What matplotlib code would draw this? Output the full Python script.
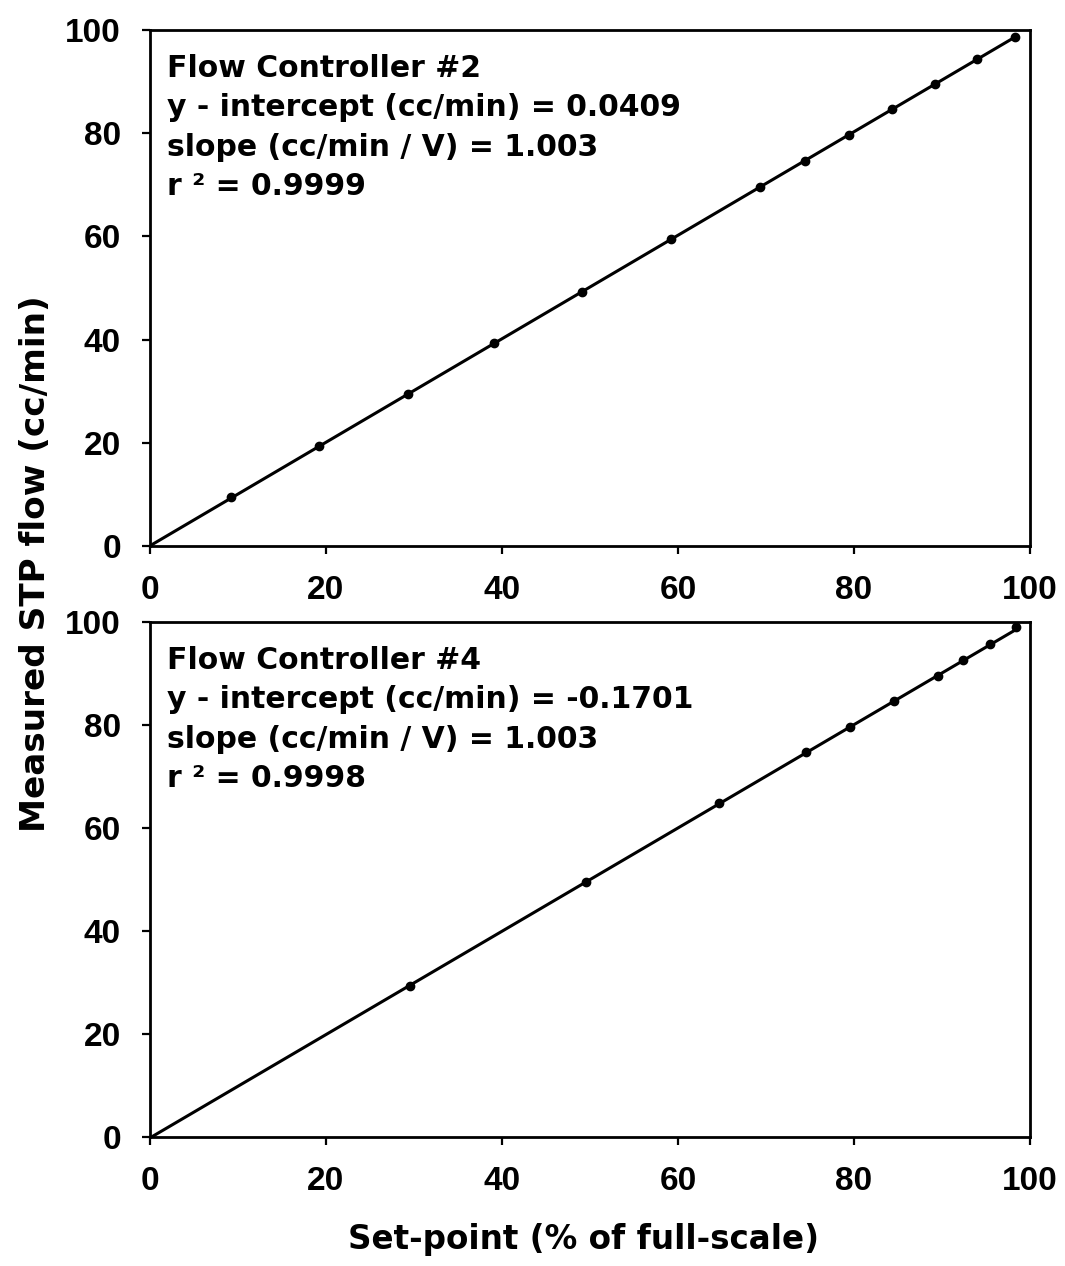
import matplotlib
matplotlib.use("Agg")
import matplotlib.pyplot as plt
import numpy as np

plt.rcParams['font.family'] = ['DejaVu Sans']

# Flow Controller #2 data
x2 = [9.2, 19.2, 29.3, 39.1, 49.1, 59.2, 69.3, 74.4, 79.4, 84.3, 89.2, 94.0, 98.3]
y2 = [9.4, 19.4, 29.5, 39.3, 49.3, 59.4, 69.5, 74.6, 79.6, 84.6, 89.5, 94.4, 98.7]
int2, slope2, r2_2 = 0.0409, 1.003, 0.9999

# Flow Controller #4 data
x4 = [29.5, 49.5, 64.7, 74.6, 79.6, 84.5, 89.5, 92.4, 95.4, 98.4]
y4 = [29.4, 49.5, 64.8, 74.8, 79.7, 84.6, 89.6, 92.6, 95.7, 99.0]
int4, slope4, r2_4 = -0.1701, 1.003, 0.9998

ticks = [0, 20, 40, 60, 80, 100]

W, H = 1065, 1266
fig = plt.figure(figsize=(W/100, H/100), dpi=100)
left, right = 150/W, 1030/W
ax1 = fig.add_axes([left, 1-546/H, right-left, (546-30)/H])
ax2 = fig.add_axes([left, 1-1137/H, right-left, (1137-622)/H])

panels = [
    (ax1, x2, y2, int2, slope2, r2_2, "Flow Controller #2", "0.0409"),
    (ax2, x4, y4, int4, slope4, r2_4, "Flow Controller #4", "-0.1701"),
]
for ax, xs, ys, b, m, r2, title, bstr in panels:
    xf = np.array([0, xs[-1]])
    ax.plot(xf, b + m*xf, color='black', lw=2.2, zorder=2)
    ax.plot(xs, ys, 'o', color='black', ms=6, zorder=3)
    ax.set_xlim(0, 100)
    ax.set_ylim(0, 100)
    ax.set_xticks(ticks)
    ax.set_yticks(ticks)
    ax.tick_params(direction='out', length=6, width=1.6, labelsize=24, pad=15)
    for lab in ax.get_xticklabels() + ax.get_yticklabels():
        lab.set_fontweight('bold')
        lab.set_fontfamily(['Liberation Sans', 'DejaVu Sans'])
    for sp in ax.spines.values():
        sp.set_linewidth(2)
    txt = (f"{title}\ny - intercept (cc/min) = {bstr}\n"
           f"slope (cc/min / V) = {m:.3f}\nr ² = {r2:.4f}")
    ax.text(17/880, 1-24/516, txt, transform=ax.transAxes, ha='left', va='top',
            fontsize=21.5, fontweight='bold', linespacing=1.45)

fig.text(36/W, 1-564/H, "Measured STP flow (cc/min)", rotation=90,
         ha='center', va='center', fontsize=24.7, fontweight='bold')
fig.text(584/W, 1-1239/H, "Set-point (% of full-scale)",
         ha='center', va='center', fontsize=23.5, fontweight='bold')

fig.savefig("out.png", dpi=100)
